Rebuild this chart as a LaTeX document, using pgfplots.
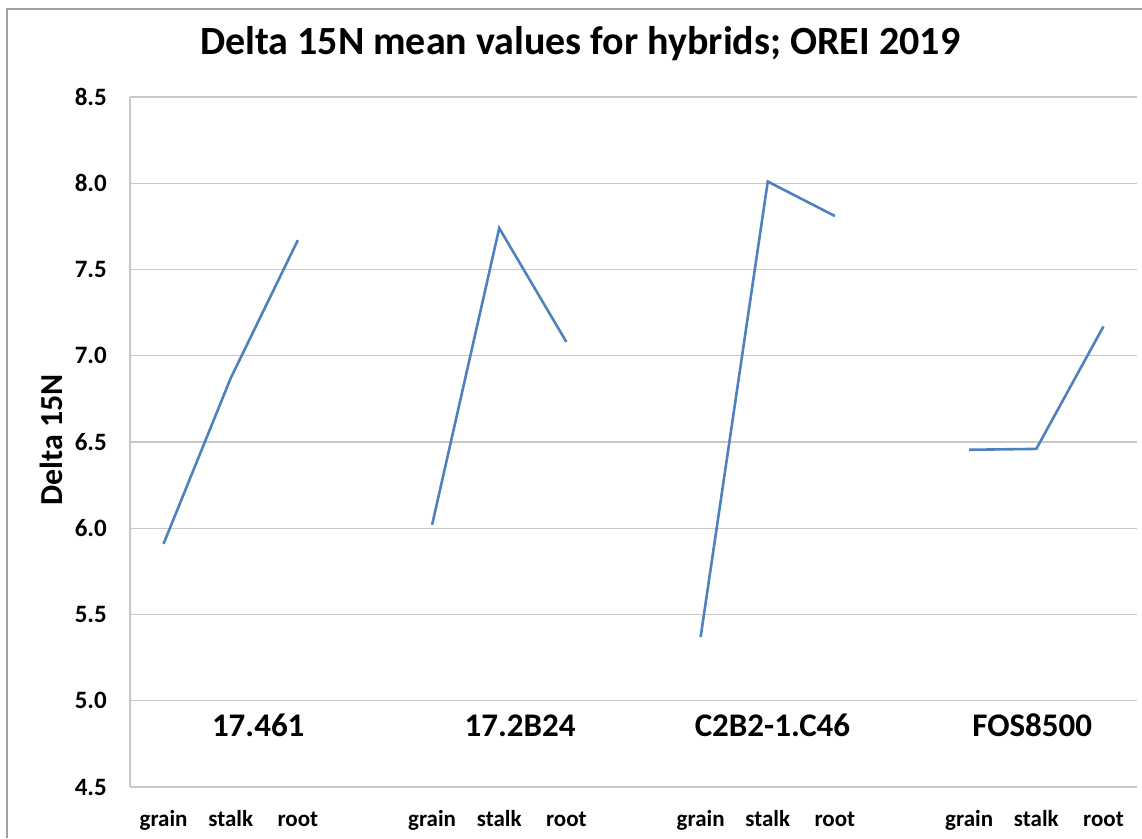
\documentclass[border=0pt]{standalone}
\usepackage{pgfplots}
\pgfplotsset{compat=1.18}
\usepackage{fontspec}
\setmainfont{Carlito}
\definecolor{lineblue}{RGB}{79,129,189}
\definecolor{gridgray}{RGB}{200,200,200}
\definecolor{framegray}{RGB}{160,160,160}
\begin{document}
\begin{tikzpicture}
\path[use as bounding box] (0pt,0pt) rectangle (1142pt,-838pt);
\draw[framegray, line width=1.2pt] (7pt,-838pt) -- (7pt,-9pt) -- (1142pt,-9pt);
\begin{axis}[
  at={(130pt,-787pt)}, anchor=south west,
  scale only axis, width=1007pt, height=690pt,
  xmin=-0.5, xmax=14.5, ymin=4.5, ymax=8.5,
  ytick={4.5,5.0,...,8.5},
  xtick={0,1,2,4,5,6,8,9,10,12,13,14},
  xticklabels={grain,stalk,root,grain,stalk,root,grain,stalk,root,grain,stalk,root},
  axis x line*=bottom, axis y line*=left,
  axis line style={gridgray, line width=1.3pt, -},
  ymajorgrids, grid style={gridgray, line width=1.3pt},
  major tick length=0pt,
  /pgf/number format/assume math mode=true,
  yticklabel={\pgfmathprintnumber[fixed, fixed zerofill, precision=1]{\tick}},
  yticklabel style={font=\fontsize{25}{30}\selectfont\bfseries, inner sep=0pt, anchor=east, xshift=-23pt},
  xticklabel style={font=\fontsize{23}{27}\selectfont\bfseries, inner sep=0pt, anchor=base, yshift=-39pt},
  ylabel={Delta 15N},
  ylabel style={font=\fontsize{32}{38}\selectfont\bfseries, inner sep=0pt, at={(axis description cs:-0.078,0.503)}, anchor=center},
  title={Delta 15N mean values for hybrids; OREI 2019},
  title style={font=\fontsize{40}{48}\selectfont\bfseries, inner sep=0pt, at={(axis description cs:0.447,1.0536)}, anchor=base},
  clip=false,
]
\addplot[lineblue, line width=2.6pt, no marks] coordinates {(0,5.91) (1,6.87) (2,7.67)};
\addplot[lineblue, line width=2.6pt, no marks] coordinates {(4,6.02) (5,7.74) (6,7.08)};
\addplot[lineblue, line width=2.6pt, no marks] coordinates {(8,5.37) (9,8.01) (10,7.81)};
\addplot[lineblue, line width=2.6pt, no marks] coordinates {(12,6.455) (13,6.46) (14,7.17)};
\node[font=\fontsize{33}{40}\selectfont\bfseries, anchor=base, inner sep=0pt] at (axis cs:1.41,4.79) {17.461};
\node[font=\fontsize{33}{40}\selectfont\bfseries, anchor=base, inner sep=0pt] at (axis cs:5.31,4.79) {17.2B24};
\node[font=\fontsize{33}{40}\selectfont\bfseries, anchor=base, inner sep=0pt] at (axis cs:9.07,4.79) {C2B2-1.C46};
\node[font=\fontsize{33}{40}\selectfont\bfseries, anchor=base, inner sep=0pt] at (axis cs:12.94,4.79) {FOS8500};
\end{axis}
\end{tikzpicture}
\end{document}
